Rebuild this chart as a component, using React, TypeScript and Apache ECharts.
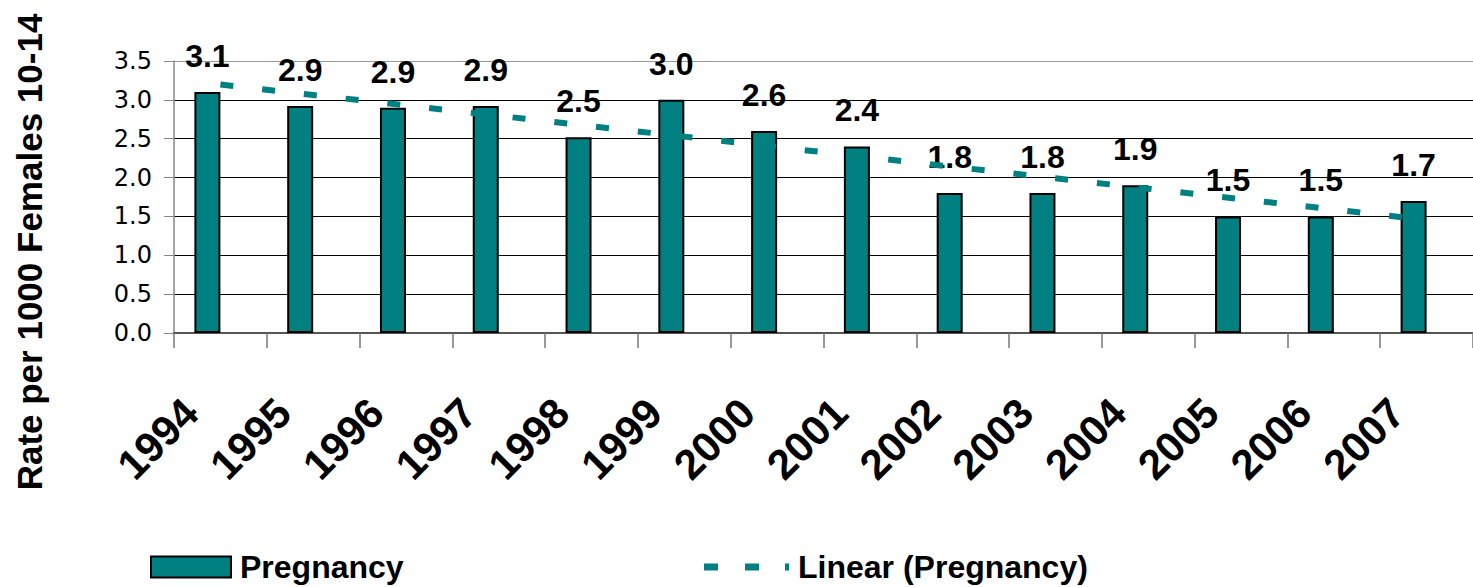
import React, { useEffect, useRef } from "react";
import * as echarts from "echarts";

const years = ["1994", "1995", "1996", "1997", "1998", "1999", "2000", "2001", "2002", "2003", "2004", "2005", "2006", "2007"];
const pregnancy = [3.1, 2.92, 2.9, 2.92, 2.52, 3.0, 2.6, 2.4, 1.8, 1.8, 1.9, 1.5, 1.5, 1.7];
const yMin = 0;
const yMax = 3.5;
const yStep = 0.5;
const seriesName = "Pregnancy";
const trendName = "Linear (Pregnancy)";
const yTitle = "Rate per 1000 Females 10-14";

// Excel-style linear trendline (least squares over category index)
function linearTrend(vals: number[]): number[] {
  const n = vals.length;
  const xs = vals.map((_, i) => i + 1);
  const mx = xs.reduce((a, b) => a + b, 0) / n;
  const my = vals.reduce((a, b) => a + b, 0) / n;
  let sxy = 0;
  let sxx = 0;
  for (let i = 0; i < n; i++) {
    sxy += (xs[i] - mx) * (vals[i] - my);
    sxx += (xs[i] - mx) * (xs[i] - mx);
  }
  const slope = sxy / sxx;
  return xs.map((x) => my + slope * (x - mx));
}

const TEAL = "#008080";
const FONT = "'Liberation Sans', Arial, sans-serif";

export default function App() {
  const ref = useRef<HTMLDivElement>(null);
  useEffect(() => {
    if (!ref.current) return;
    const chart = echarts.init(ref.current, undefined, { renderer: "svg" });
    const trend = linearTrend(pregnancy);
    chart.setOption({
      animation: false,
      backgroundColor: "#ffffff",
      textStyle: { fontFamily: FONT },
      grid: { left: 174, top: 61, width: 1304, height: 272, containLabel: false },
      legend: [
        {
          data: [{ name: seriesName, icon: "rect" }],
          left: 150,
          top: 551,
          padding: 0,
          itemWidth: 80,
          itemHeight: 21,
          textStyle: { fontSize: 32, fontWeight: "bold", color: "#000", fontFamily: FONT, padding: [0, 0, 0, 4] },
          selectedMode: false,
        },
        {
          data: [
            {
              name: trendName,
              icon: "path://M0,0h14v7h-14z M41,0h14v7h-14z M81,0h4v7h-4z",
            },
          ],
          left: 704,
          top: 551,
          padding: 0,
          itemWidth: 85,
          itemHeight: 7,
          textStyle: { fontSize: 32, fontWeight: "bold", color: "#000", fontFamily: FONT, padding: [0, 0, 0, 4] },
          selectedMode: false,
        },
      ],
      xAxis: {
        type: "category",
        data: years,
        boundaryGap: true,
        axisLine: { show: true, lineStyle: { color: "#555", width: 2 } },
        axisTick: { show: true, length: 15, lineStyle: { color: "#777", width: 1.5 } },
        axisLabel: {
          rotate: 45,
          interval: 0,
          margin: 43,
          padding: [0, 42, 0, 0],
          fontSize: 42,
          fontWeight: "bold",
          color: "#000",
          fontFamily: FONT,
        },
        splitLine: { show: false },
      },
      yAxis: {
        type: "value",
        min: yMin,
        max: yMax,
        interval: yStep,
        axisLine: { show: true, lineStyle: { color: "#888", width: 1.5 } },
        axisTick: { show: true, length: 10, lineStyle: { color: "#888", width: 1 } },
        axisLabel: {
          margin: 22,
          fontSize: 24,
          color: "#000",
          fontFamily: "'DejaVu Sans', sans-serif",
          formatter: (v: number) => v.toFixed(1),
        },
        splitLine: {
          show: true,
          lineStyle: { color: ["#000", "#000", "#000", "#000", "#000", "#000", "#000", "#999"], width: 1 },
        },
      },
      series: [
        {
          name: seriesName,
          type: "bar",
          data: pregnancy,
          barWidth: 26,
          barGap: "0%",
          itemStyle: { color: TEAL, borderColor: "#000", borderWidth: 2 },
          label: {
            show: true,
            position: "top",
            distance: 20,
            fontSize: 32,
            fontWeight: "bold",
            color: "#000",
            fontFamily: FONT,
            formatter: (p: any) => Number(p.value).toFixed(1),
          },
        },
        {
          name: "_spacer",
          type: "bar",
          data: years.map(() => null),
          barWidth: 26,
          barGap: "0%",
          itemStyle: { color: "transparent" },
          label: { show: false },
        },
        {
          name: trendName,
          type: "line",
          data: trend,
          symbol: "none",
          showSymbol: false,
          lineStyle: { color: TEAL, width: 6, type: [13, 29] },
          itemStyle: { color: TEAL },
        },
      ],
      graphic: [
        {
          type: "text",
          x: 29,
          y: 252,
          rotation: Math.PI / 2,
          style: {
            text: yTitle,
            fontSize: 35,
            fontWeight: "bold",
            fontFamily: FONT,
            fill: "#000",
            align: "center",
            verticalAlign: "middle",
          },
        },
      ],
    });
    return () => chart.dispose();
  }, []);
  return (
    <div
      ref={ref}
      style={{ position: "fixed", left: 0, top: 0, width: 1473, height: 587 }}
    />
  );
}
